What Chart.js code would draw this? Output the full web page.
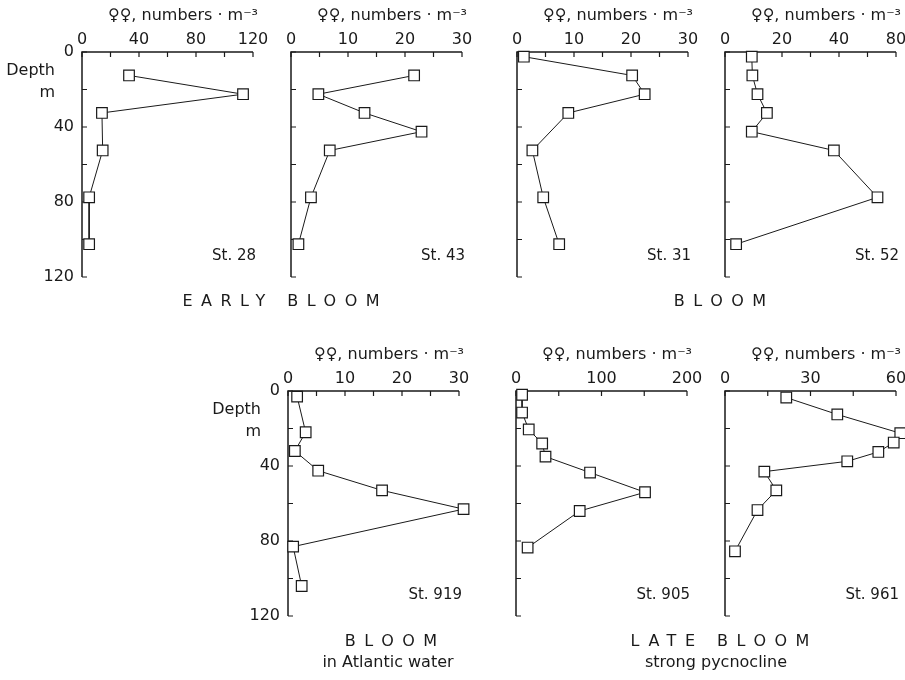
<!DOCTYPE html>
<html>
<head>
<meta charset="utf-8">
<script src="https://cdn.jsdelivr.net/npm/chart.js@4.4.1/dist/chart.umd.min.js"></script>
<style>
  html, body { margin: 0; padding: 0; background: #fff; }
  #page { position: relative; width: 905px; height: 680px; overflow: hidden; background: #fff; }
  #page canvas { position: absolute; }
  .note { position: absolute; font-family: 'DejaVu Sans', sans-serif; color: #1a1a1a; white-space: nowrap; transform: translate(-50%, -50%); }
  .spaced { font-size: 16px; letter-spacing: 8.5px; padding-left: 8.5px; }
  .plain { font-size: 16px; }
</style>
</head>
<body>
<div id="page"></div>
<script>
// females per m3 against sampling depth (m)
const st28Depth = [12.5, 22.5, 32.5, 52.5, 77.5, 102.5];
const st28Females = [33, 113, 14, 14.5, 5, 5];

const st43Depth = [12.5, 22.5, 32.5, 42.5, 52.5, 77.5, 102.5];
const st43Females = [21.6, 4.8, 12.9, 22.9, 6.8, 3.5, 1.3];

const st31Depth = [2.5, 12.5, 22.5, 32.5, 52.5, 77.5, 102.5];
const st31Females = [1.2, 20.2, 22.4, 9.0, 2.7, 4.6, 7.4];

const st52Depth = [2.5, 12.5, 22.5, 32.5, 42.5, 52.5, 77.5, 102.5];
const st52Females = [9.4, 9.6, 11.4, 14.7, 9.4, 38.2, 53.5, 3.9];

const st919Depth = [3, 22, 32, 42.5, 53, 63, 83, 104];
const st919Females = [1.6, 3.1, 1.2, 5.3, 16.5, 30.8, 0.9, 2.4];

const st905Depth = [2, 11.5, 20.5, 28, 35, 43.5, 54, 64, 83.5];
const st905Females = [7.1, 7.1, 14.9, 30.6, 34.5, 86.6, 150.9, 74.5, 13.6];

const st961Depth = [3.5, 12.5, 22.5, 27.5, 32.5, 37.5, 43, 53, 63.5, 85.5];
const st961Females = [21.5, 39.4, 61.5, 59.2, 53.8, 42.9, 13.8, 18.0, 11.4, 3.5];

const stationNames = ['St. 28', 'St. 43', 'St. 31', 'St. 52', 'St. 919', 'St. 905', 'St. 961'];
const xMax = [120, 30, 30, 60, 30, 200, 60];
const xMinorStep = [20, 5, 5, 10, 5, 50, 15];
const xTickLabels = [
  ['0', '40', '80', '120'],
  ['0', '10', '20', '30'],
  ['0', '10', '20', '30'],
  ['0', '20', '40', '80'],
  ['0', '10', '20', '30'],
  ['0', '100', '200'],
  ['0', '30', '60']
];
const depthTicks = [0, 20, 40, 60, 80, 100, 120];
const depthTickLabels = ['0', '', '40', '', '80', '', '120'];
const xTitle = '♀♀, numbers · m⁻³';

const FONT = "'DejaVu Sans', sans-serif";
const INK = '#1a1a1a';
const YW = 90, XH = 52, PW = 171, PH = 225, PR = 40, PB = 30;

const depths = [st28Depth, st43Depth, st31Depth, st52Depth, st919Depth, st905Depth, st961Depth];
const females = [st28Females, st43Females, st31Females, st52Females, st919Females, st905Females, st961Females];
// axis left edge, axis top edge, whether the depth scale is labelled
const placement = [
  [82, 52, true], [291, 52, false], [517, 52, false], [725, 52, false],
  [288, 391, true], [516, 391, false], [725, 391, false]
];

const framePlugin = {
  id: 'frame',
  beforeDatasetsDraw(chart) {
    const { ctx, chartArea: a, scales: { x, y } } = chart;
    ctx.save();
    ctx.strokeStyle = INK;
    ctx.lineWidth = 1.5;
    ctx.beginPath();
    ctx.moveTo(a.left, a.bottom);
    ctx.lineTo(a.left, a.top);
    ctx.lineTo(a.right, a.top);
    ctx.stroke();
    ctx.lineWidth = 1.2;
    ctx.beginPath();
    x.ticks.forEach(t => {
      const px = x.getPixelForValue(t.value);
      ctx.moveTo(px, a.top);
      ctx.lineTo(px, a.top + 5);
    });
    y.ticks.forEach(t => {
      const py = y.getPixelForValue(t.value);
      ctx.moveTo(a.left, py);
      ctx.lineTo(a.left + 5, py);
    });
    ctx.stroke();
    ctx.restore();
  },
  afterDraw(chart, args, opts) {
    const { ctx, chartArea: a, scales: { y } } = chart;
    ctx.save();
    ctx.fillStyle = INK;
    ctx.textBaseline = 'middle';
    ctx.textAlign = 'right';
    ctx.font = '16px ' + FONT;
    ctx.fillText(xTitle, a.right + 5, a.top - 36);
    ctx.font = '15px ' + FONT;
    ctx.fillText(opts.station, a.right + 3, y.getPixelForValue(109));
    if (opts.depthAxis) {
      ctx.font = '16px ' + FONT;
      ctx.fillText('Depth', a.left - 27, a.top + 19);
      ctx.fillText('m', a.left - 27, a.top + 41);
    }
    ctx.restore();
  }
};

const page = document.getElementById('page');

stationNames.forEach((name, i) => {
  const [left, top, depthAxis] = placement[i];
  const cv = document.createElement('canvas');
  cv.width = YW + PW + PR;
  cv.height = XH + PH + PB;
  cv.style.left = (left - YW) + 'px';
  cv.style.top = (top - XH) + 'px';
  page.appendChild(cv);

  const labelStep = xMinorStep[i] * 2;
  const points = females[i].map((v, k) => ({ x: v, y: depths[i][k] }));

  new Chart(cv, {
    type: 'scatter',
    data: {
      datasets: [{
        data: points,
        showLine: true,
        borderColor: INK,
        borderWidth: 1,
        pointStyle: 'rect',
        pointRadius: 7.5,
        pointBorderWidth: 1.2,
        pointBorderColor: INK,
        pointBackgroundColor: '#fff',
        clip: false
      }]
    },
    options: {
      responsive: false,
      animation: false,
      events: [],
      layout: { padding: { left: 0, top: 0, right: PR, bottom: PB } },
      plugins: {
        legend: { display: false },
        tooltip: { enabled: false },
        frame: { station: name, depthAxis: depthAxis }
      },
      scales: {
        x: {
          type: 'linear',
          position: 'top',
          min: 0,
          max: xMax[i],
          grid: { display: false, drawTicks: false },
          border: { display: false },
          ticks: {
            stepSize: xMinorStep[i],
            autoSkip: false,
            maxRotation: 0,
            padding: 3,
            color: INK,
            font: { family: FONT, size: 16 },
            callback: (value) => {
              const k = value / labelStep;
              return Math.abs(k - Math.round(k)) < 1e-6 ? xTickLabels[i][Math.round(k)] : '';
            }
          },
          afterFit: (s) => { s.height = XH; }
        },
        y: {
          type: 'linear',
          reverse: true,
          min: 0,
          max: 120,
          grid: { display: false, drawTicks: false },
          border: { display: false },
          ticks: {
            stepSize: 20,
            autoSkip: false,
            padding: 8,
            color: INK,
            font: { family: FONT, size: 16 },
            callback: (value) => {
              if (!depthAxis) return '';
              const k = depthTicks.indexOf(value);
              return k >= 0 ? depthTickLabels[k] : '';
            }
          },
          afterFit: (s) => { s.width = YW; }
        }
      }
    },
    plugins: [framePlugin]
  });
});

// group captions under the panels
const captions = [
  ['EARLY BLOOM', 'spaced', 281, 300],
  ['BLOOM', 'spaced', 720, 300],
  ['BLOOM', 'spaced', 391, 640],
  ['in Atlantic water', 'plain', 388, 661],
  ['LATE BLOOM', 'spaced', 720, 640],
  ['strong pycnocline', 'plain', 716, 661]
];
captions.forEach(([text, cls, cx, cy]) => {
  const d = document.createElement('div');
  d.className = 'note ' + cls;
  d.textContent = text;
  d.style.left = cx + 'px';
  d.style.top = cy + 'px';
  page.appendChild(d);
});
</script>
</body>
</html>
